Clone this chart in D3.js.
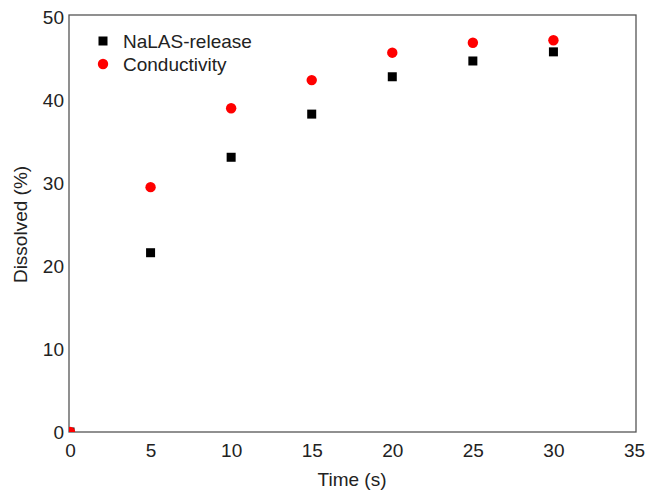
<!DOCTYPE html>
<html>
<head>
<meta charset="utf-8">
<script src="https://cdn.jsdelivr.net/npm/d3@7"></script>
<style>
  body { margin: 0; background: #fff; }
  text { font-family: "Liberation Sans", Arial, sans-serif; fill: #222; }
</style>
</head>
<body>
<svg id="chart" width="647" height="490"></svg>
<script>
var times = [0, 5, 10, 15, 20, 25, 30]
var nalasRelease = [0, 21.6, 33.1, 38.3, 42.8, 44.7, 45.8]
var conductivity = [0, 29.5, 39.0, 42.4, 45.7, 46.9, 47.2]
var xTicks = [0, 5, 10, 15, 20, 25, 30, 35]
var yTicks = [0, 10, 20, 30, 40, 50]

var svg = d3.select('#chart')
var mLeft = 70, mRight = 634, mTop = 17, mBottom = 432
var fs = '19px'

var x = d3.scaleLinear().domain([0, 35]).range([mLeft, mRight])
var y = d3.scaleLinear().domain([0, 50]).range([mBottom, mTop])

svg.append('defs').append('clipPath').attr('id', 'clip')
  .append('rect')
    .attr('x', mLeft - 1).attr('y', mTop - 2)
    .attr('width', mRight - mLeft + 3).attr('height', mBottom - mTop + 2)

// tick labels
svg.append('g')
  .attr('transform', 'translate(0,' + mBottom + ')')
  .call(d3.axisBottom(x).tickValues(xTicks).tickSize(0).tickPadding(12))
  .call(function(g) { g.select('.domain').remove() })
  .selectAll('text').style('font-size', fs).attr('fill', '#222')

svg.append('g')
  .attr('transform', 'translate(' + mLeft + ',0)')
  .call(d3.axisLeft(y).tickValues(yTicks).tickSize(0).tickPadding(6))
  .call(function(g) { g.select('.domain').remove() })
  .selectAll('text').style('font-size', fs).attr('fill', '#222')

// frame
svg.append('rect')
  .attr('x', mLeft - 1).attr('y', mTop - 2)
  .attr('width', mRight - mLeft + 3).attr('height', mBottom - mTop + 2)
  .attr('fill', 'none').attr('stroke', '#555').attr('stroke-width', 1.3)

var data = times.map(function(t, i) {
  return { t: t, a: nalasRelease[i], b: conductivity[i] }
})

var plot = svg.append('g').attr('clip-path', 'url(#clip)')

plot.selectAll('.sq').data(data).enter()
  .append('rect')
    .attr('class', 'sq')
    .attr('x', function(d) { return x(d.t) - 4.5 })
    .attr('y', function(d) { return y(d.a) - 4.5 })
    .attr('width', 9).attr('height', 9)
    .attr('fill', '#000')

plot.selectAll('.dot').data(data).enter()
  .append('circle')
    .attr('class', 'dot')
    .attr('cx', function(d) { return x(d.t) })
    .attr('cy', function(d) { return y(d.b) })
    .attr('r', 5.2)
    .attr('fill', '#ff0000')

// legend
svg.append('rect').attr('x', 98.5).attr('y', 36.5).attr('width', 9).attr('height', 9).attr('fill', '#000')
svg.append('text').attr('x', 123).attr('y', 48).style('font-size', fs).text('NaLAS-release')
svg.append('circle').attr('cx', 103).attr('cy', 64).attr('r', 5.2).attr('fill', '#ff0000')
svg.append('text').attr('x', 123).attr('y', 71).style('font-size', fs).text('Conductivity')

// axis titles
svg.append('text')
  .attr('x', (mLeft + mRight) / 2).attr('y', 486)
  .attr('text-anchor', 'middle').style('font-size', fs)
  .text('Time (s)')

svg.append('text')
  .attr('transform', 'translate(27,' + ((mTop + mBottom) / 2) + ') rotate(-90)')
  .attr('text-anchor', 'middle').style('font-size', fs)
  .text('Dissolved (%)')
</script>
</body>
</html>
